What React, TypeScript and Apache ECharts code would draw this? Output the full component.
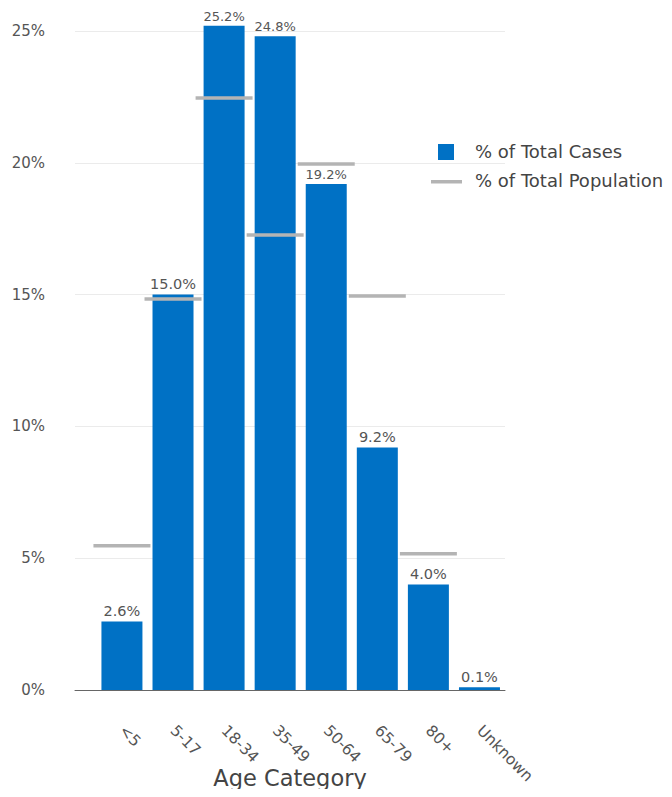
import React, { useEffect, useRef } from "react";
import * as echarts from "echarts";

const categories = ["<5", "5-17", "18-34", "35-49", "50-64", "65-79", "80+", "Unknown"];
const casesPct = [2.6, 15.0, 25.2, 24.8, 19.2, 9.2, 4.0, 0.1];
const populationPct: (number | null)[] = [5.47, 14.83, 22.46, 17.26, 19.95, 14.95, 5.17, null];
const yTicks = [0, 5, 10, 15, 20, 25];

const BLUE = "#0071C5";
const GRAY = "#B4B4B4";
const TEXT = "#555555";
const FONT = "DejaVu Sans";

export default function App() {
  const ref = useRef<HTMLDivElement>(null);

  useEffect(() => {
    if (!ref.current) return;
    const chart = echarts.init(ref.current, undefined, { renderer: "svg" });
    const yMax = yTicks[yTicks.length - 1];
    const step = yTicks[1] - yTicks[0];

    chart.setOption({
      animation: false,
      textStyle: { fontFamily: FONT },
      grid: [
        { left: 75, right: 167, top: 31, bottom: 107, outerBoundsMode: "none" },
        { left: 96.4, right: 167, top: 31, bottom: 107, outerBoundsMode: "none" },
      ],
      xAxis: [
        {
          gridIndex: 0,
          type: "value",
          min: 0,
          max: 1,
          axisLabel: { show: false },
          axisTick: { show: false },
          splitLine: { show: false },
          axisLine: { show: true, onZero: false, lineStyle: { color: "#666", width: 1 } },
          name: "Age Category",
          nameLocation: "middle",
          nameGap: 76,
          nameTextStyle: { fontSize: 22.5, color: "#444", fontFamily: FONT },
        },
        {
          gridIndex: 1,
          type: "category",
          data: categories,
          axisLine: { show: false },
          axisTick: { show: false },
          axisLabel: {
            rotate: -45,
            margin: 38,
            fontSize: 15.5,
            color: TEXT,
            fontFamily: FONT,
          },
        },
      ],
      yAxis: [
        {
          gridIndex: 0,
          type: "value",
          min: 0,
          max: yMax,
          interval: step,
          axisLine: { show: false },
          axisTick: { show: false },
          axisLabel: {
            formatter: "{value}%",
            fontSize: 15,
            color: TEXT,
            margin: 30,
            fontFamily: FONT,
          },
          splitLine: { lineStyle: { color: "#EBEBEB", width: 1 } },
        },
        {
          gridIndex: 1,
          type: "value",
          min: 0,
          max: yMax,
          interval: step,
          show: false,
          splitLine: { show: false },
        },
      ],
      series: [
        {
          name: "% of Total Cases",
          type: "bar",
          xAxisIndex: 1,
          yAxisIndex: 1,
          data: casesPct.map((v) => ({
            value: v,
            label: { fontSize: v > 15 ? 13 : 14.5 },
          })),
          barWidth: 41,
          clip: false,
          itemStyle: { color: BLUE },
          label: {
            show: true,
            position: "top",
            distance: 3,
            color: TEXT,
            fontFamily: FONT,
            formatter: (p: any) => `${Number(p.value).toFixed(1)}%`,
          },
          z: 2,
        },
        {
          name: "% of Total Population",
          type: "scatter",
          xAxisIndex: 1,
          yAxisIndex: 1,
          data: populationPct.map((v) => (v == null ? "-" : v)),
          symbol: "rect",
          symbolSize: [57, 3.5],
          itemStyle: { color: GRAY, opacity: 1 },
          z: 3,
        },
      ],
      graphic: [
        {
          type: "rect",
          left: 438,
          top: 144,
          shape: { width: 16, height: 16 },
          style: { fill: BLUE },
        },
        {
          type: "text",
          left: 475,
          top: 142,
          style: { text: "% of Total Cases", fill: "#444", fontSize: 18, fontFamily: FONT },
        },
        {
          type: "rect",
          left: 431,
          top: 180,
          shape: { width: 31, height: 3.5 },
          style: { fill: GRAY },
        },
        {
          type: "text",
          left: 475,
          top: 171,
          style: { text: "% of Total Population", fill: "#444", fontSize: 18, fontFamily: FONT },
        },
      ],
    });

    return () => chart.dispose();
  }, []);

  return <div ref={ref} style={{ width: 672, height: 797, margin: -8 }} />;
}
